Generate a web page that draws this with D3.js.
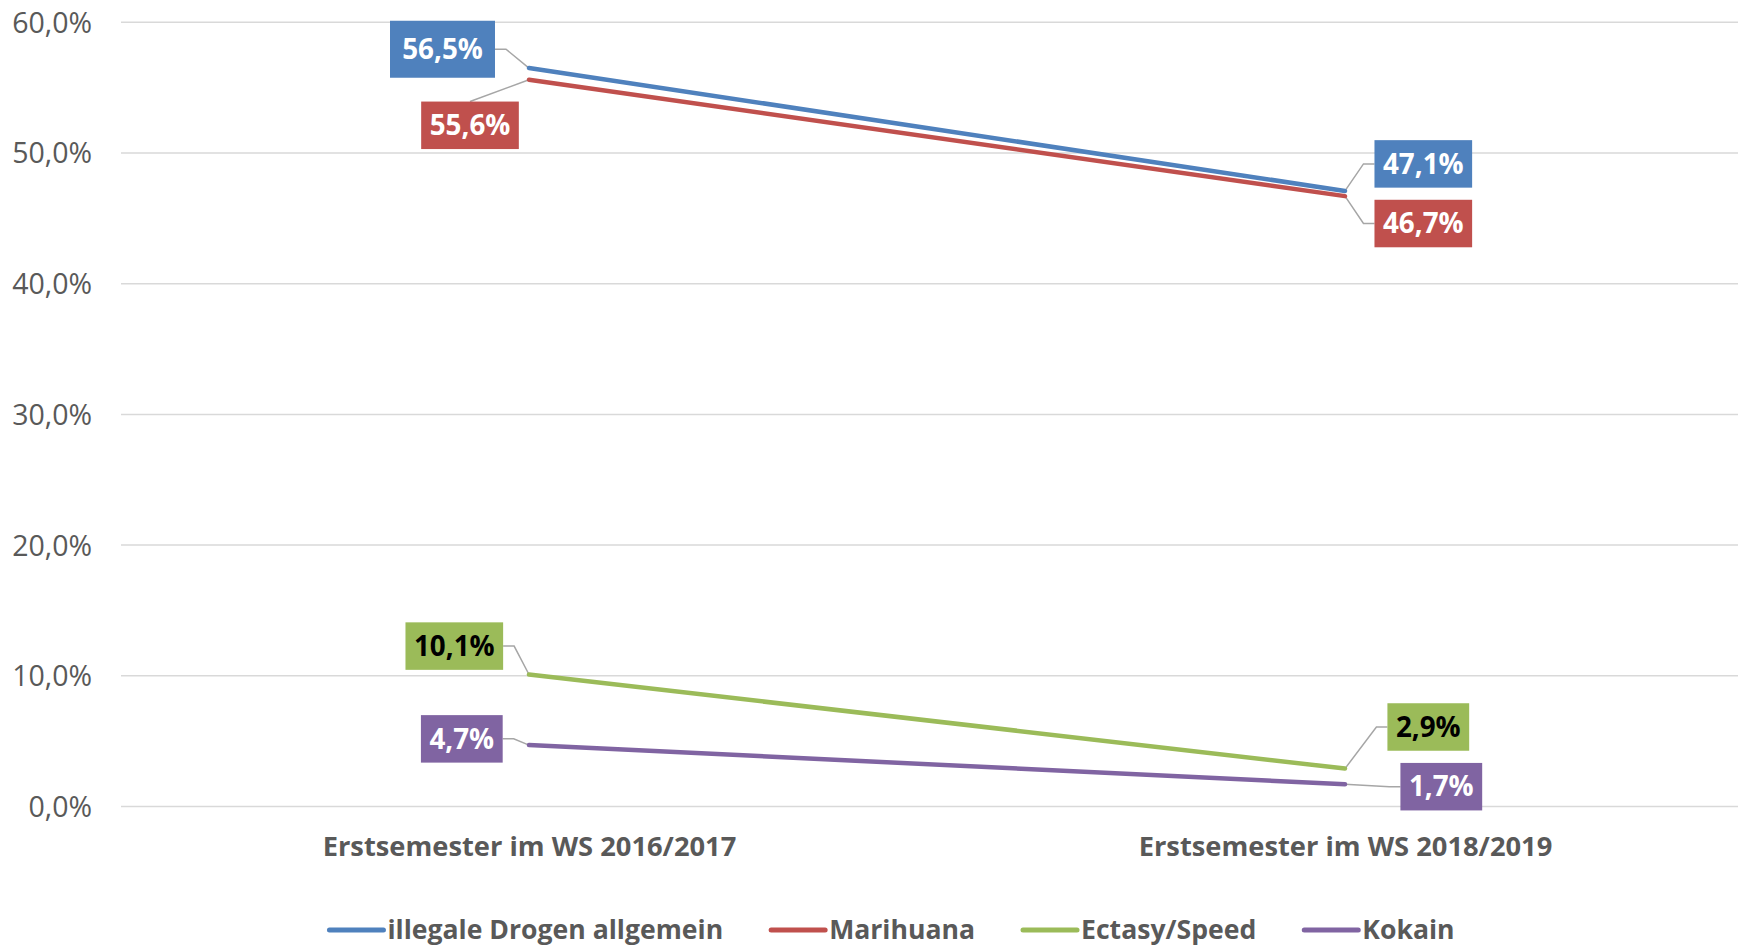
<!DOCTYPE html>
<html>
<head>
<meta charset="utf-8">
<script src="https://cdn.jsdelivr.net/npm/d3@7"></script>
<style>
  html, body { margin: 0; padding: 0; background: #fff; }
  svg { display: block; }
  text { font-family: "Open Sans", sans-serif; }
</style>
</head>
<body>
<svg id="chart" width="1738" height="947"></svg>
<script>
// ---- data ----
const categories = ["Erstsemester im WS 2016/2017", "Erstsemester im WS 2018/2019"];
const seriesNames = ["illegale Drogen allgemein", "Marihuana", "Ectasy/Speed", "Kokain"];
const illegaleDrogen = [56.5, 47.1];
const marihuana = [55.6, 46.7];
const ectasySpeed = [10.1, 2.9];
const kokain = [4.7, 1.7];
const yTicks = [0, 10, 20, 30, 40, 50, 60];
const seriesColors = ["#4F81BD", "#C0504D", "#9BBB59", "#8064A2"];
const labelTextColors = ["#FFFFFF", "#FFFFFF", "#000000", "#FFFFFF"];

// ---- label placement (layout only) ----
const labelLayout = [
  [{dx: -86.5, dy: -18.8, w: 105, h: 57, leader: "side"}, {dx: 78.3, dy: -27, leader: "side"}],
  [{dx: -59, dy: 45.5, leader: "top"}, {dx: 78.3, dy: 27.4, leader: "side"}],
  [{dx: -74.7, dy: -28.4, leader: "side"}, {dx: 83.3, dy: -41.6, leader: "side"}],
  [{dx: -67.2, dy: -6.2, leader: "side"}, {dx: 96.3, dy: 2.4, leader: "side"}]
];

const seriesValues = [illegaleDrogen, marihuana, ectasySpeed, kokain];
const series = seriesNames.map((name, i) => ({
  name, color: seriesColors[i], textColor: labelTextColors[i],
  values: seriesValues[i].map((v, j) => ({cat: categories[j], v}))
}));

const svg = d3.select("#chart");
const W = 1738, H = 947;
const x = d3.scalePoint().domain(categories).range([121, 1753]).padding(0.5);
const y = d3.scaleLinear().domain([0, 60]).range([806.5, 22.3]);

const fmt = v => d3.format(".1f")(v).replace(".", ",") + "%";
const gray = "#595959";

// gridlines
svg.append("g").selectAll("line").data(yTicks).join("line")
  .attr("x1", 121).attr("x2", W)
  .attr("y1", d => y(d)).attr("y2", d => y(d))
  .attr("stroke", "#D9D9D9").attr("stroke-width", 1.5);

// y axis labels
const yAxis = d3.axisLeft(y).tickValues(yTicks).tickFormat(fmt).tickSize(0).tickPadding(0);
const gy = svg.append("g").attr("transform", "translate(92,0)").call(yAxis);
gy.select(".domain").remove();
gy.selectAll("text").attr("fill", gray).style("font-size", "28.5px")
  .style("font-family", "'Open Sans', sans-serif").attr("dy", "0.35em");

// x axis labels
const xAxis = d3.axisBottom(x).tickSize(0).tickPadding(0);
const gx = svg.append("g").attr("transform", "translate(0,846)").call(xAxis);
gx.select(".domain").remove();
gx.selectAll("text").attr("fill", gray).style("font-size", "27.3px").style("font-weight", "700")
  .style("font-family", "'Open Sans', sans-serif").attr("dy", "0.35em").attr("y", 0);

// leader lines layer
const leaderG = svg.append("g");
// series lines
const line = d3.line().x(d => x(d.cat)).y(d => y(d.v));
svg.append("g").selectAll("path").data(series).join("path")
  .attr("d", d => line(d.values))
  .attr("fill", "none").attr("stroke", d => d.color)
  .attr("stroke-width", 4.5).attr("stroke-linecap", "round");

// data labels
const labelG = svg.append("g");
series.forEach((s, si) => {
  s.values.forEach((p, pi) => {
    const lay = labelLayout[si][pi];
    const px = x(p.cat), py = y(p.v);
    const cx = px + lay.dx, cy = py + lay.dy;
    const g = labelG.append("g");
    const rect = g.append("rect").attr("fill", s.color);
    const t = g.append("text").text(fmt(p.v))
      .attr("x", cx).attr("y", cy).attr("dy", "0.35em")
      .attr("text-anchor", "middle").attr("fill", s.textColor)
      .style("font-size", "27.8px").style("font-weight", "700");
    const tw = t.node().getComputedTextLength();
    const w = lay.w || (tw + 17), h = lay.h || 47.5;
    rect.attr("x", cx - w / 2).attr("y", cy - h / 2).attr("width", w).attr("height", h);
    // leader
    let pts;
    if (lay.leader === "top") {
      pts = [[cx, cy - h / 2], [px, py]];
    } else if (cx < px) {
      pts = [[cx + w / 2, cy], [cx + w / 2 + 11, cy], [px, py]];
    } else {
      pts = [[cx - w / 2, cy], [cx - w / 2 - 11, cy], [px, py]];
    }
    leaderG.append("path").attr("d", d3.line()(pts))
      .attr("fill", "none").attr("stroke", "#A6A6A6").attr("stroke-width", 1.5);
  });
});

// legend
const legend = svg.append("g").attr("transform", "translate(0,930)");
const items = legend.selectAll("g").data(series).join("g");
items.append("line").attr("x1", 0).attr("x2", 54).attr("y1", 0).attr("y2", 0)
  .attr("stroke", d => d.color).attr("stroke-width", 5).attr("stroke-linecap", "round");
items.append("text").attr("x", 58).attr("dy", "0.35em").text(d => d.name)
  .attr("fill", gray).style("font-size", "26.6px").style("font-weight", "700");
const gap = 48;
let widths = [];
items.each(function() { widths.push(this.getBBox().width); });
const total = d3.sum(widths) + gap * (widths.length - 1);
let cur = 892 - total / 2;
items.attr("transform", (d, i) => { const tx = cur; cur += widths[i] + gap; return `translate(${tx},0)`; });
</script>
</body>
</html>
